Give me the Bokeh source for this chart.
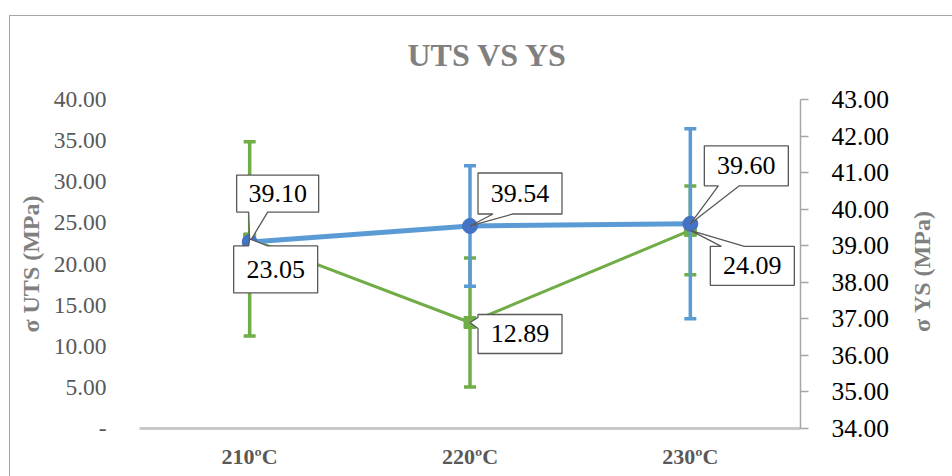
import math
from bokeh.plotting import figure
from bokeh.layouts import row
from bokeh.models import Range1d, LinearAxis, FixedTicker, Title, NumeralTickFormatter, InlineStyleSheet
from bokeh.core.properties import value
from bokeh.embed import file_html
from bokeh.resources import INLINE

# ---- data ----
categories = ["210ºC", "220ºC", "230ºC"]
uts = [23.05, 12.89, 24.09]          # left axis (σ UTS)
uts_err = [11.8, 7.85, 5.4]
ys = [39.10, 39.54, 39.60]           # right axis (σ YS)
ys_err = [0.0, 1.65, 2.6]
uts_ticks = [0, 5, 10, 15, 20, 25, 30, 35, 40]
ys_ticks = [34, 35, 36, 37, 38, 39, 40, 41, 42, 43]
title_text = "UTS VS YS"
uts_label = "σ UTS (MPa)"
ys_label = "σ YS (MPa)"

# ---- layout ----
W, H = 905, 476          # main figure
W2 = 952 - W             # strip holding the right axis title
BL, BR, BT, BB = 139, W - 800, 99, 48
FW, FH = W - BL - BR, H - BT - BB
X0, X1 = -0.5, len(categories) - 0.5
U0, U1 = uts_ticks[0], uts_ticks[-1]
Y0, Y1 = ys_ticks[0], ys_ticks[-1]
ppx = FW / (X1 - X0)
ppu = FH / (U1 - U0)
ppy = FH / (Y1 - Y0)

SERIF = "Liberation Serif"
BLUE, BLUE_M, GREEN = "#5B9BD5", "#4472C4", "#70AD47"
BORDER = "#A6A6A6"

p = figure(width=W, height=H, output_backend="svg", toolbar_location=None,
           x_range=Range1d(X0, X1), y_range=Range1d(U0, U1),
           min_border_left=BL, min_border_right=BR, min_border_top=BT, min_border_bottom=BB,
           background_fill_color="white", border_fill_color="white")
p.outline_line_color = None
p.xgrid.visible = False
p.ygrid.visible = False
p.extra_y_ranges = {"ys": Range1d(Y0, Y1)}

# outer chart-area border (top and left edges visible in the crop)
p.stylesheets = [InlineStyleSheet(css=f""":host::after {{
  content: ""; position: absolute; left: 9px; top: 15px; right: 0px; bottom: 0px;
  border-top: 1px solid {BORDER}; border-left: 1px solid {BORDER}; pointer-events: none;
}}""")]

# title
p.title = Title(text=title_text, align="left", offset=268, standoff=53,
                text_font=SERIF, text_font_size="32px", text_font_style="bold",
                text_color="#808080")

# x axis
xa = p.xaxis[0]
xa.ticker = FixedTicker(ticks=list(range(len(categories))))
xa.major_label_overrides = {i: c for i, c in enumerate(categories)}
xa.axis_line_color = "#C9C9C9"
xa.axis_line_width = 3
xa.major_tick_line_color = None
xa.minor_tick_line_color = None
xa.major_label_text_font = SERIF
xa.major_label_text_font_size = "22px"
xa.major_label_text_font_style = "bold"
xa.major_label_text_color = "#595959"
xa.major_label_standoff = 9

# left axis
ya = p.yaxis[0]
ya.ticker = FixedTicker(ticks=uts_ticks)
ya.formatter = NumeralTickFormatter(format="0.00")
ya.major_label_overrides = {0: "-"}
ya.axis_line_color = None
ya.major_tick_line_color = None
ya.minor_tick_line_color = None
ya.major_label_text_font = SERIF
ya.major_label_text_font_size = "23.5px"
ya.major_label_text_color = "#595959"
ya.major_label_standoff = 27
ya.axis_label = uts_label
ya.axis_label_text_font = SERIF
ya.axis_label_text_font_size = "24px"
ya.axis_label_text_font_style = "bold"
ya.axis_label_text_color = "#808080"
ya.axis_label_standoff = 7

# right axis (line, ticks, labels)
ra = LinearAxis(y_range_name="ys", ticker=FixedTicker(ticks=ys_ticks),
                formatter=NumeralTickFormatter(format="0.00"))
ra.axis_line_color = BORDER
ra.axis_line_width = 1.5
ra.major_tick_line_color = BORDER
ra.major_tick_line_width = 1.5
ra.major_tick_in = 0
ra.major_tick_out = 8
ra.minor_tick_line_color = None
ra.major_label_text_font = SERIF
ra.major_label_text_font_size = "25.5px"
ra.major_label_text_color = "black"
ra.major_label_standoff = 23
p.add_layout(ra, "right")

xs = list(range(len(categories)))

# green (UTS) error bars, line, markers
gi = [i for i in xs if uts_err[i] > 0]
p.segment(x0=gi, x1=gi, y0=[uts[i] - uts_err[i] for i in gi], y1=[uts[i] + uts_err[i] for i in gi],
          line_color=GREEN, line_width=3.5)
p.scatter(x=gi + gi, y=[uts[i] - uts_err[i] for i in gi] + [uts[i] + uts_err[i] for i in gi],
          marker="dash", size=12, line_color=GREEN, line_width=3.5)
p.line(xs, uts, line_color=GREEN, line_width=3)
p.scatter(xs, uts, marker="square", size=12, fill_color=GREEN, line_color=GREEN)

# blue (YS) error bars, line, markers
bi = [i for i in xs if ys_err[i] > 0]
p.segment(x0=bi, x1=bi, y0=[ys[i] - ys_err[i] for i in bi], y1=[ys[i] + ys_err[i] for i in bi],
          line_color=BLUE, line_width=3.5, y_range_name="ys")
p.scatter(x=bi + bi, y=[ys[i] - ys_err[i] for i in bi] + [ys[i] + ys_err[i] for i in bi],
          marker="dash", size=12, line_color=BLUE, line_width=3.5, y_range_name="ys")
p.line(xs, ys, line_color=BLUE, line_width=5, y_range_name="ys")
p.scatter(xs, ys, marker="circle", size=15, fill_color=BLUE_M, line_color=BLUE_M, y_range_name="ys")

# callouts: (series, index, box L, R, T, B in px relative to point (y down), edge, tail base a, b)
callouts = [
    ("ys", 0, -13, 69, -67, -30, "bottom", -1, 18),
    ("uts", 0, -16, 68, 7, 54, "top", -1, 18),
    ("ys", 1, 8, 92, -53, -12, "bottom", 23, 43),
    ("uts", 1, 8, 92, -8, 31, "left", -5, 6),
    ("ys", 2, 14, 98, -78, -38, "bottom", 28, 49),
    ("uts", 2, 20, 104, 16, 55, "top", 31, 54),
]
for ser, i, L, R, T, B, edge, a, b in callouts:
    if edge == "top":
        pts = [(L, T), (a, T), (0, 0), (b, T), (R, T), (R, B), (L, B)]
    elif edge == "bottom":
        pts = [(L, T), (R, T), (R, B), (b, B), (0, 0), (a, B), (L, B)]
    else:
        pts = [(L, T), (R, T), (R, B), (L, B), (L, b), (0, 0), (L, a)]
    val = ys[i] if ser == "ys" else uts[i]
    sc = ppy if ser == "ys" else ppu
    px_ = [i + dx / ppx for dx, dy in pts]
    py_ = [val - dy / sc for dx, dy in pts]
    kw = {"y_range_name": "ys"} if ser == "ys" else {}
    p.patch(px_, py_, fill_color="white", line_color="#595959", line_width=1.3, **kw)
    p.text(x=[i + (L + R) / 2 / ppx], y=[val - (T + B) / 2 / sc], text=[f"{val:.2f}"],
           text_font=value(SERIF), text_font_size="26px", text_color="black",
           text_align="center", text_baseline="middle", **kw)

# right strip with the right-axis title (reads bottom-to-top)
p2 = figure(width=W2, height=H, output_backend="svg", toolbar_location=None,
            x_range=Range1d(0, W2), y_range=Range1d(0, H),
            x_axis_location=None, y_axis_location=None, min_border=0,
            background_fill_color="white", border_fill_color="white")
p2.outline_line_color = None
p2.xgrid.visible = False
p2.ygrid.visible = False
p2.stylesheets = [InlineStyleSheet(css=f""":host::after {{
  content: ""; position: absolute; left: 0px; top: 15px; right: 0px; bottom: 0px;
  border-top: 1px solid {BORDER}; pointer-events: none;
}}""")]
p2.text(x=[921 - W], y=[H - 249], text=[ys_label], angle=math.pi / 2,
        text_font=value(SERIF), text_font_size="24px", text_font_style="bold",
        text_color="#808080", text_align="center", text_baseline="middle")

layout = row(p, p2, spacing=0)
open("out.html", "w").write(file_html(layout, INLINE))
